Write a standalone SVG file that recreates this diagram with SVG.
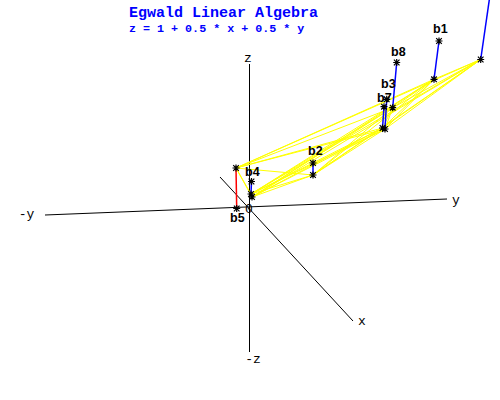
<svg xmlns="http://www.w3.org/2000/svg" xmlns:xlink="http://www.w3.org/1999/xlink" width="500" height="400" viewBox="0 0 500 400">
<style>
.title{font-family:"Liberation Mono",monospace;font-weight:bold;fill:#0000ff}
.ax{font-family:"Liberation Mono",monospace;font-size:13px;fill:#000;text-anchor:middle}
.lbl{font-family:"Liberation Sans",Arial,sans-serif;font-weight:bold;font-size:12.5px;fill:#000}
.axis{stroke:#000;stroke-width:1;fill:none}
.plane{stroke:#ffff00;stroke-width:1;fill:none}
.pos{stroke:#0000ff;stroke-width:1.5}
.neg{stroke:#ff0000;stroke-width:1.5}
</style>
<defs>
<g id="star"><path d="M-3.5,0H3.5M0,-3.5V3.5M-2.8,-2.8L2.8,2.8M-2.8,2.8L2.8,-2.8" stroke="#000" stroke-width="1.2" fill="none"/></g>
</defs>
<rect width="500" height="400" fill="#fff"/>
<text class="title" x="129" y="17" font-size="15">Egwald Linear Algebra</text>
<text class="title" x="129" y="32" font-size="11.7">z = 1 + 0.5 * x + 0.5 * y</text>
<g id="axes">
<line class="axis" x1="249.5" y1="64" x2="249.5" y2="352"/>
<line class="axis" x1="45" y1="215" x2="447" y2="199"/>
<line class="axis" x1="220" y1="177" x2="353" y2="321"/>
<text class="ax" x="248" y="62">z</text>
<text class="ax" x="253" y="363">-z</text>
<text class="ax" x="362" y="325">x</text>
<text class="ax" x="26.5" y="218">-y</text>
<text class="ax" x="456" y="204">y</text>
<text class="ax" x="249" y="213">0</text>
</g>
<g id="plane">
<path class="plane" d="M236,168L480.7,59.5M236,168L434,79.3M236,168L392.7,107.7M236,168L382.5,128M236,168L385,129M236,168L313,175M236,168L251,194M236,168L252,197
M251,194L480.7,59.5M251,194L434,79.3M251,194L392.7,107.7M251,194L382.5,128M251,194L385,129M251,194L313,175M251,194L252,197
M252,197L480.7,59.5M252,197L434,79.3M252,197L392.7,107.7M252,197L382.5,128M252,197L385,129M252,197L313,175
M313,175L480.7,59.5M313,175L434,79.3M313,175L392.7,107.7M313,175L382.5,128M313,175L385,129
M382.5,128L480.7,59.5M382.5,128L434,79.3M382.5,128L392.7,107.7M385,129L480.7,59.5M385,129L434,79.3M385,129L392.7,107.7
M392.7,107.7L480.7,59.5M392.7,107.7L434,79.3M434,79.3L480.7,59.5"/>
</g>
<g id="connectors">
<line class="pos" x1="434" y1="79.3" x2="439" y2="41"/>
<line class="pos" x1="480.7" y1="59.5" x2="490" y2="-5"/>
<line class="pos" x1="392.7" y1="107.7" x2="396.7" y2="62.5"/>
<line class="pos" x1="385" y1="129" x2="386.7" y2="99.3"/>
<line class="pos" x1="382.5" y1="128" x2="384" y2="106.7"/>
<line class="pos" x1="313" y1="175" x2="313" y2="163"/>
<line class="pos" x1="251" y1="194" x2="251.5" y2="181.5"/>
<line class="neg" x1="236" y1="168" x2="236.7" y2="208.5"/>
</g>
<g id="b1"><use xlink:href="#star" x="434" y="79.3"/><use xlink:href="#star" x="439" y="41"/><text class="lbl" x="433" y="33">b1</text></g>
<g id="b6"><use xlink:href="#star" x="480.7" y="59.5"/></g>
<g id="b8"><use xlink:href="#star" x="392.7" y="107.7"/><use xlink:href="#star" x="396.7" y="62.5"/><text class="lbl" x="391" y="56">b8</text></g>
<g id="b3"><use xlink:href="#star" x="385" y="129"/><use xlink:href="#star" x="386.7" y="99.3"/><text class="lbl" x="381" y="88">b3</text></g>
<g id="b7"><use xlink:href="#star" x="382.5" y="128"/><use xlink:href="#star" x="384" y="106.7"/><text class="lbl" x="377" y="102">b7</text></g>
<g id="b2"><use xlink:href="#star" x="313" y="175"/><use xlink:href="#star" x="313" y="163"/><text class="lbl" x="308" y="155">b2</text></g>
<g id="b4"><use xlink:href="#star" x="251" y="194"/><use xlink:href="#star" x="252" y="197"/><use xlink:href="#star" x="251.5" y="181.5"/><text class="lbl" x="245" y="176">b4</text></g>
<g id="b5"><use xlink:href="#star" x="236" y="168"/><use xlink:href="#star" x="236.7" y="208.5"/><text class="lbl" x="230" y="222">b5</text></g>
</svg>
